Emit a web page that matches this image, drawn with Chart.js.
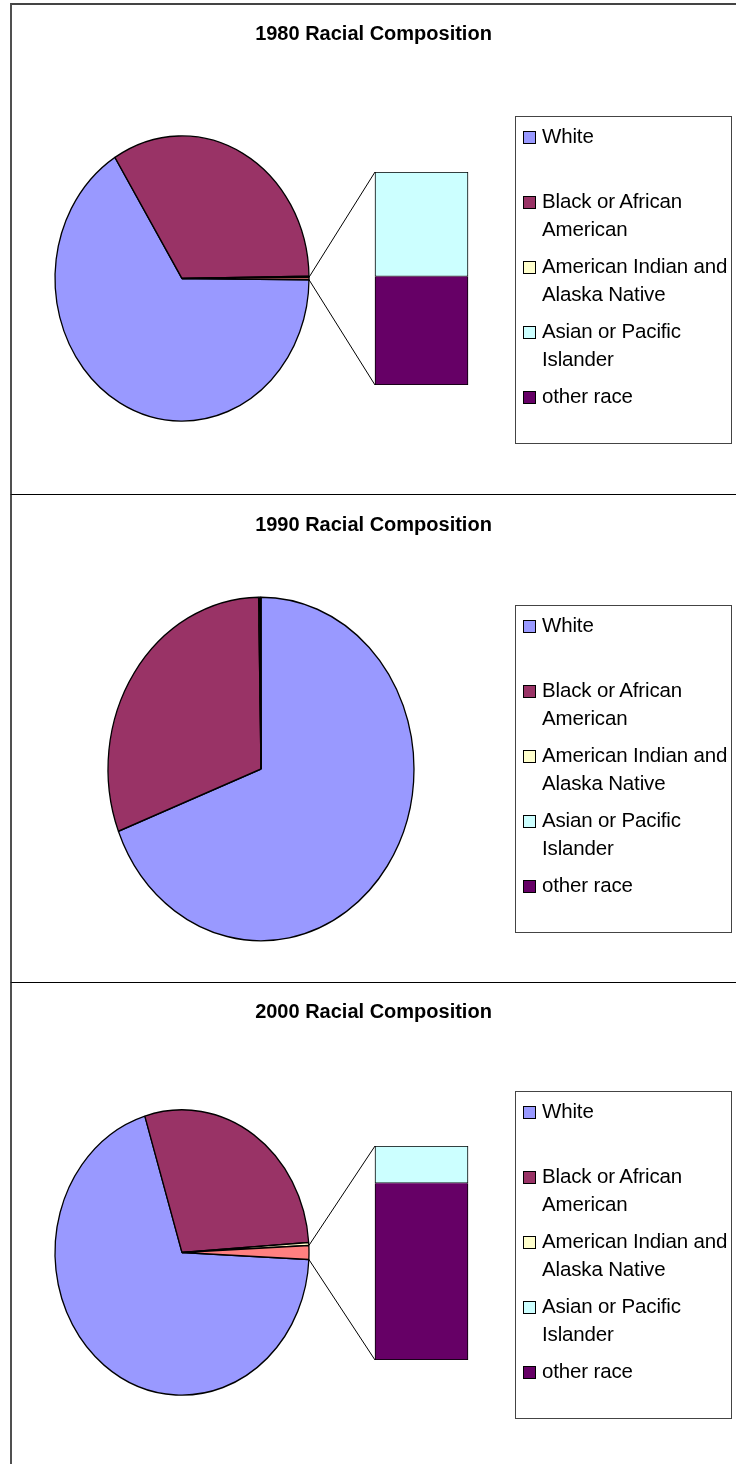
<!DOCTYPE html>
<html>
<head>
<meta charset="utf-8">
<title>Racial Composition 1980-2000</title>
<script src="https://cdn.jsdelivr.net/npm/chart.js@4.4.1/dist/chart.umd.min.js"></script>
<style>
  html, body { margin: 0; padding: 0; background: #fff; }
  body { position: relative; width: 736px; height: 1464px; overflow: hidden; font-family: Arial, "Liberation Sans", sans-serif; }
  .panel { position: absolute; left: 10px; width: 760px; height: 600px; border-top: 1px solid #000; border-left: 2px solid #505050; box-sizing: border-box; }
  .panel.first { border-top: 2px solid #444; }
  .title { position: absolute; left: 11px; width: 725px; text-align: center; font-weight: bold; font-size: 20px; line-height: 24px; color: #000; }
  .legend { position: absolute; width: 217px; height: 328px; border: 1px solid #444; box-sizing: border-box; background: #fff; }
  .legend .item { position: absolute; left: 0; width: 100%; height: 65px; }
  .legend .swatch { position: absolute; left: 7px; top: 9px; width: 13px; height: 13px; border: 1px solid #000; box-sizing: border-box; }
  .legend .label { position: absolute; left: 26px; top: 0; width: 200px; font-size: 20.5px; letter-spacing: -0.15px; line-height: 28px; color: #000; }
  canvas { position: absolute; }
</style>
</head>
<body>
<script>
const categories = ['White', 'Black or African American', 'American Indian and Alaska Native', 'Asian or Pacific Islander', 'other race'];

// percent of population, same order as categories
const share1980 = [66.0, 33.6, 0.12, 0.13, 0.135];
const share1990 = [69.1, 30.65, 0.1, 0.11, 0.04];
const share2000 = [69.5, 28.6, 0.35, 0.27, 1.28];

const colors = ['#9999FF', '#993366', '#FFFFCC', '#CCFFFF', '#660066'];
const otherColor = '#FF8080';
const yStretch = 1.123;

const panels = [
  { year: '1980', data: share1980, top: 3, first: true, titleY: 33, pie: { x: 182, y: 278.5, r: 127 }, bar: { x: 375, y: 172, w: 93, h: 213 }, legend: { x: 515, y: 116 } },
  { year: '1990', data: share1990, top: 494, titleY: 524, pie: { x: 261, y: 769, r: 153 }, bar: null, legend: { x: 515, y: 605 } },
  { year: '2000', data: share2000, top: 982, titleY: 1011, pie: { x: 182, y: 1252.5, r: 127 }, bar: { x: 375, y: 1146, w: 93, h: 214 }, legend: { x: 515, y: 1091 } }
];

function addCanvas(x, y, w, h) {
  const c = document.createElement('canvas');
  c.width = w;
  c.height = h;
  c.style.left = x + 'px';
  c.style.top = y + 'px';
  c.style.width = w + 'px';
  c.style.height = h + 'px';
  document.body.appendChild(c);
  return c;
}

function addDiv(cls, parent) {
  const d = document.createElement('div');
  d.className = cls;
  (parent || document.body).appendChild(d);
  return d;
}

// stretch the pie vertically into an ellipse
const ellipse = {
  id: 'ellipse',
  beforeDatasetsDraw(chart) {
    const arc = chart.getDatasetMeta(0).data[0];
    const ctx = chart.ctx;
    ctx.save();
    ctx.translate(arc.x, arc.y);
    ctx.scale(1, yStretch);
    ctx.translate(-arc.x, -arc.y);
  },
  afterDatasetsDraw(chart) {
    chart.ctx.restore();
  }
};

// lines from the combined slice to the stacked bar
function connector(barChart, barCanvas) {
  return {
    id: 'connector',
    afterDraw(chart) {
      const slice = chart.getDatasetMeta(0).data[3];
      const low = barChart.getDatasetMeta(0).data[0];
      const high = barChart.getDatasetMeta(1).data[0];
      const dx = barCanvas.offsetLeft - chart.canvas.offsetLeft;
      const dy = barCanvas.offsetTop - chart.canvas.offsetTop;
      const edge = a => [slice.x + slice.outerRadius * Math.cos(a), slice.y + yStretch * slice.outerRadius * Math.sin(a)];
      const p1 = edge(slice.startAngle);
      const p2 = edge(slice.endAngle);
      const bx = low.x - low.width / 2 + dx;
      const ctx = chart.ctx;
      ctx.save();
      ctx.strokeStyle = '#000';
      ctx.lineWidth = 1;
      ctx.beginPath();
      ctx.moveTo(p1[0], p1[1]);
      ctx.lineTo(bx, high.y + dy);
      ctx.moveTo(p2[0], p2[1]);
      ctx.lineTo(bx, low.base + dy);
      ctx.stroke();
      ctx.restore();
    }
  };
}

function drawBar(p) {
  const pad = 4;
  const c = addCanvas(p.bar.x - 9, p.bar.y - pad, p.bar.w + 18, p.bar.h + 2 * pad);
  const asian = p.data[3];
  const other = p.data[4];
  const chart = new Chart(c, {
    type: 'bar',
    data: {
      labels: ['Other'],
      datasets: [
        { label: categories[4], data: [other], backgroundColor: colors[4], borderColor: '#000',
          borderWidth: { top: 0, left: 1, right: 1, bottom: 1 }, borderSkipped: false, barThickness: p.bar.w },
        { label: categories[3], data: [asian], backgroundColor: colors[3], borderColor: '#000',
          borderWidth: 1, borderSkipped: false, barThickness: p.bar.w }
      ]
    },
    options: {
      responsive: false,
      animation: false,
      events: [],
      layout: { padding: { top: pad, bottom: pad, left: 0, right: 0 } },
      scales: {
        x: { stacked: true, display: false },
        y: { stacked: true, display: false, min: 0, max: asian + other }
      },
      plugins: { legend: { display: false }, tooltip: { enabled: false } }
    }
  });
  return { chart, canvas: c };
}

function drawPie(p, bar) {
  const left = 12, top = p.top + 1, w = 724, h = 486;
  const c = addCanvas(left, top, w, h);
  const cx = p.pie.x - left, cy = p.pie.y - top;
  const padding = {
    left: Math.max(2 * cx - w, 0), right: Math.max(w - 2 * cx, 0),
    top: Math.max(2 * cy - h, 0), bottom: Math.max(h - 2 * cy, 0)
  };

  let values = p.data.slice();
  let sliceColors = colors.slice();
  let rotation = 0;
  const plugins = [ellipse];
  if (bar) {
    // pie of bar: asian + other race go into one slice pointing at the bar
    const combined = p.data[3] + p.data[4];
    values = [p.data[0], p.data[1], p.data[2], combined];
    sliceColors = [colors[0], colors[1], colors[2], otherColor];
    const total = values.reduce((a, b) => a + b, 0);
    rotation = 90 + combined / total * 180;
    plugins.push(connector(bar.chart, bar.canvas));
  }

  new Chart(c, {
    type: 'pie',
    data: {
      labels: bar ? categories.slice(0, 3).concat(['Other']) : categories,
      datasets: [{
        data: values,
        backgroundColor: sliceColors,
        borderColor: '#000',
        borderWidth: 1.3,
        hoverOffset: 0,
        clip: false
      }]
    },
    options: {
      responsive: false,
      animation: false,
      events: [],
      rotation: rotation,
      radius: p.pie.r,
      layout: { padding: padding },
      plugins: { legend: { display: false }, tooltip: { enabled: false } }
    },
    plugins: plugins
  });
}

function drawLegend(p) {
  const box = addDiv('legend');
  box.style.left = p.legend.x + 'px';
  box.style.top = p.legend.y + 'px';
  categories.forEach((name, i) => {
    const item = addDiv('item', box);
    item.style.top = (5 + 65 * i) + 'px';
    const sw = addDiv('swatch', item);
    sw.style.background = colors[i];
    const label = addDiv('label', item);
    label.textContent = name;
  });
}

panels.forEach(p => {
  const frame = addDiv('panel' + (p.first ? ' first' : ''));
  frame.style.top = p.top + 'px';
});

panels.forEach(p => {
  const bar = p.bar ? drawBar(p) : null;
  drawPie(p, bar);
  const title = addDiv('title');
  title.style.top = (p.titleY - 12) + 'px';
  title.textContent = p.year + ' Racial Composition';
  drawLegend(p);
});
</script>
</body>
</html>
